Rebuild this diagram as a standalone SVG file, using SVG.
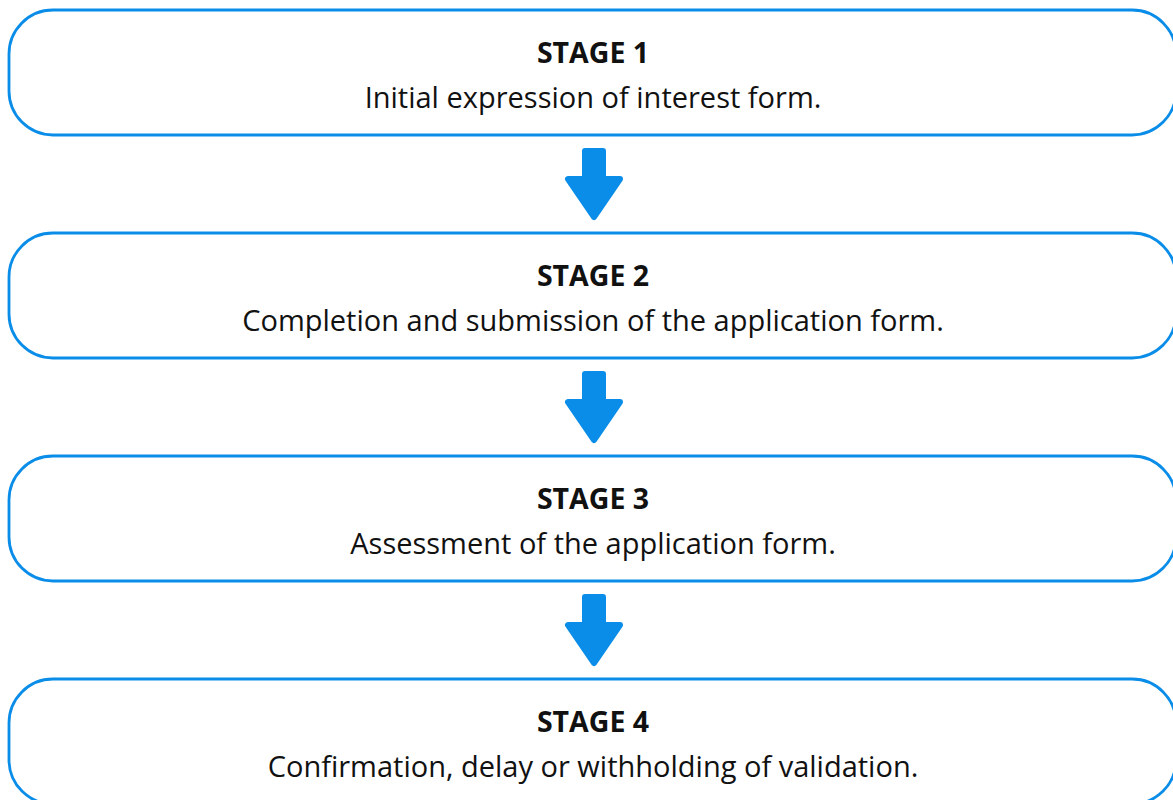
<svg xmlns="http://www.w3.org/2000/svg" width="1173" height="800" viewBox="0 0 1173 800">
<defs>
<style>
.box{fill:#fff;stroke:#0a8de8;stroke-width:2.8}
.arrow{fill:#0a8de8;stroke:#0a8de8;stroke-width:6;stroke-linejoin:round}
.t{font-family:"Open Sans","Liberation Sans",sans-serif;font-size:28.5px;font-weight:700;fill:#111;text-anchor:middle}
.d{font-family:"Open Sans","Liberation Sans",sans-serif;font-size:29px;fill:#111;text-anchor:middle}
</style>
<path id="arr" d="M585,151 L603,151 L603,179 L620,179 L594,217 L568,179 L585,179 Z"/>
</defs>
<rect width="1173" height="800" fill="#fff"/>
<g id="connectors">
<use href="#arr" class="arrow"/>
<use href="#arr" class="arrow" y="223"/>
<use href="#arr" class="arrow" y="446"/>
</g>
<g id="stage1">
<rect class="box" x="9" y="10" width="1167" height="125" rx="44"/>
<text class="t" x="593" y="63">STAGE 1</text>
<text class="d" x="593" y="108">Initial expression of interest form.</text>
</g>
<g id="stage2">
<rect class="box" x="9" y="233" width="1167" height="125" rx="44"/>
<text class="t" x="593" y="286">STAGE 2</text>
<text class="d" x="593" y="331">Completion and submission of the application form.</text>
</g>
<g id="stage3">
<rect class="box" x="9" y="456" width="1167" height="125" rx="44"/>
<text class="t" x="593" y="509">STAGE 3</text>
<text class="d" x="593" y="554">Assessment of the application form.</text>
</g>
<g id="stage4">
<rect class="box" x="9" y="679" width="1167" height="125" rx="44"/>
<text class="t" x="593" y="732">STAGE 4</text>
<text class="d" x="593" y="777">Confirmation, delay or withholding of validation.</text>
</g>
</svg>
